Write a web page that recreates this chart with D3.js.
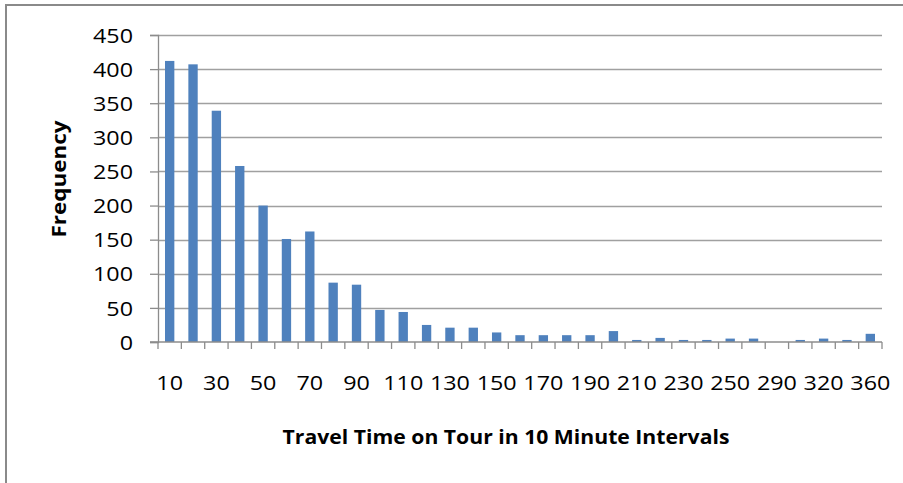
<!DOCTYPE html>
<html>
<head>
<meta charset="utf-8">
<script src="https://cdn.jsdelivr.net/npm/d3@7"></script>
<style>
  html, body { margin: 0; padding: 0; background: #fff; }
  svg { display: block; }
  text { font-family: "Open Sans", "Liberation Sans", sans-serif; fill: #000; }
</style>
</head>
<body>
<svg id="chart" width="903" height="483"></svg>
<script>
// ---- data ----
const categories = ["10","20","30","40","50","60","70","80","90","100",
  "110","120","130","140","150","160","170","180","190","200",
  "210","220","230","240","250","270","290","300","320","340","360"];
const frequencies = [412, 407, 339, 258, 200, 151, 162, 87, 84, 47,
  44, 25, 21, 21, 14, 10, 10, 10, 10, 16,
  3, 6, 3, 3, 5, 5, 0, 3, 5, 3, 12];
const yTickValues = [0, 50, 100, 150, 200, 250, 300, 350, 400, 450];
const xLabelEvery = 2;
const xTitle = "Travel Time on Tour in 10 Minute Intervals";
const yTitle = "Frequency";

// ---- layout ----
const svg = d3.select("#chart");
const plot = { left: 158, right: 882, top: 35, bottom: 342 };

const x = d3.scaleBand()
  .domain(categories)
  .range([plot.left, plot.right])
  .paddingInner(0.6)
  .paddingOuter(0.3);

const y = d3.scaleLinear()
  .domain([0, 450])
  .range([plot.bottom, plot.top]);

// outer border
svg.append("path")
  .attr("d", "M6,483 V5 H903")
  .attr("fill", "none")
  .attr("stroke", "#8a8a8a")
  .attr("stroke-width", 2);

// gridlines
svg.append("g")
  .selectAll("line")
  .data(yTickValues.filter(v => v > 0))
  .join("line")
  .attr("x1", plot.left).attr("x2", plot.right)
  .attr("y1", d => Math.round(y(d)) + 0.5).attr("y2", d => Math.round(y(d)) + 0.5)
  .attr("stroke", "#a0a0a0").attr("stroke-width", 1.3);

// bars
svg.append("g")
  .selectAll("rect")
  .data(categories.map((c, i) => ({ c, v: frequencies[i] })))
  .join("rect")
  .attr("x", d => x(d.c))
  .attr("width", x.bandwidth())
  .attr("y", d => y(d.v))
  .attr("height", d => y(0) - y(d.v))
  .attr("fill", "#4f81bd");

// y axis
const yAxis = d3.axisLeft(y)
  .tickValues(yTickValues)
  .tickSize(8)
  .tickPadding(17)
  .tickFormat(d3.format("d"));
const gy = svg.append("g")
  .attr("transform", `translate(${plot.left},0)`)
  .call(yAxis);
gy.select(".domain").attr("stroke", "#8c8c8c").attr("stroke-width", 1.3);
gy.selectAll(".tick line").attr("stroke", "#8c8c8c").attr("stroke-width", 1.3);
gy.selectAll(".tick text")
  .attr("font-size", 20)
  .attr("font-family", "'Open Sans', sans-serif")
  .attr("fill", "#000")
  .attr("dy", "0.36em");

// x axis line
svg.append("line")
  .attr("x1", plot.left - 8).attr("x2", plot.right)
  .attr("y1", y(0)).attr("y2", y(0))
  .attr("stroke", "#8c8c8c").attr("stroke-width", 1.3);

// x ticks at category boundaries
const step = x.step();
const boundaries = d3.range(categories.length + 1).map(i => plot.left + i * step);
svg.append("g")
  .selectAll("line")
  .data(boundaries)
  .join("line")
  .attr("x1", d => d).attr("x2", d => d)
  .attr("y1", y(0)).attr("y2", y(0) + 7)
  .attr("stroke", "#8c8c8c").attr("stroke-width", 1.3);

// x labels
const xl = svg.append("g")
  .selectAll("text")
  .data(categories.filter((c, i) => i % xLabelEvery === 0))
  .join("text")
  .attr("text-anchor", "middle")
  .attr("font-size", 20)
  .text(d => d);

// horizontal stretch to match reference proportions
function stretchFactor(sel, targetWidth) {
  const w = sel.node().getComputedTextLength();
  return w > 0 ? targetWidth / w : 1;
}
// "450" is about 40 px wide in the reference
const probe = svg.append("text").attr("font-size", 20).text("450");
const sx = stretchFactor(probe, 40);
probe.remove();

gy.selectAll(".tick text").each(function() {
  const t = d3.select(this);
  const xx = +t.attr("x");
  t.attr("x", 0).attr("transform", `translate(${xx},0) scale(${sx},1)`);
});
xl.attr("transform", d => `translate(${x(d) + x.bandwidth() / 2},390) scale(${sx},1)`);

// axis titles
const xt = svg.append("text")
  .attr("font-size", 20)
  .attr("font-weight", "bold")
  .attr("text-anchor", "middle")
  .text(xTitle);
const sxt = stretchFactor(xt, 447);
xt.attr("transform", `translate(506,444) scale(${sxt},1)`);

const yt = svg.append("text")
  .attr("font-size", 20)
  .attr("font-weight", "bold")
  .attr("text-anchor", "middle")
  .text(yTitle);
const syt = stretchFactor(yt, 117);
yt.attr("transform", `translate(66,179) rotate(-90) scale(${syt},1)`);
</script>
</body>
</html>
